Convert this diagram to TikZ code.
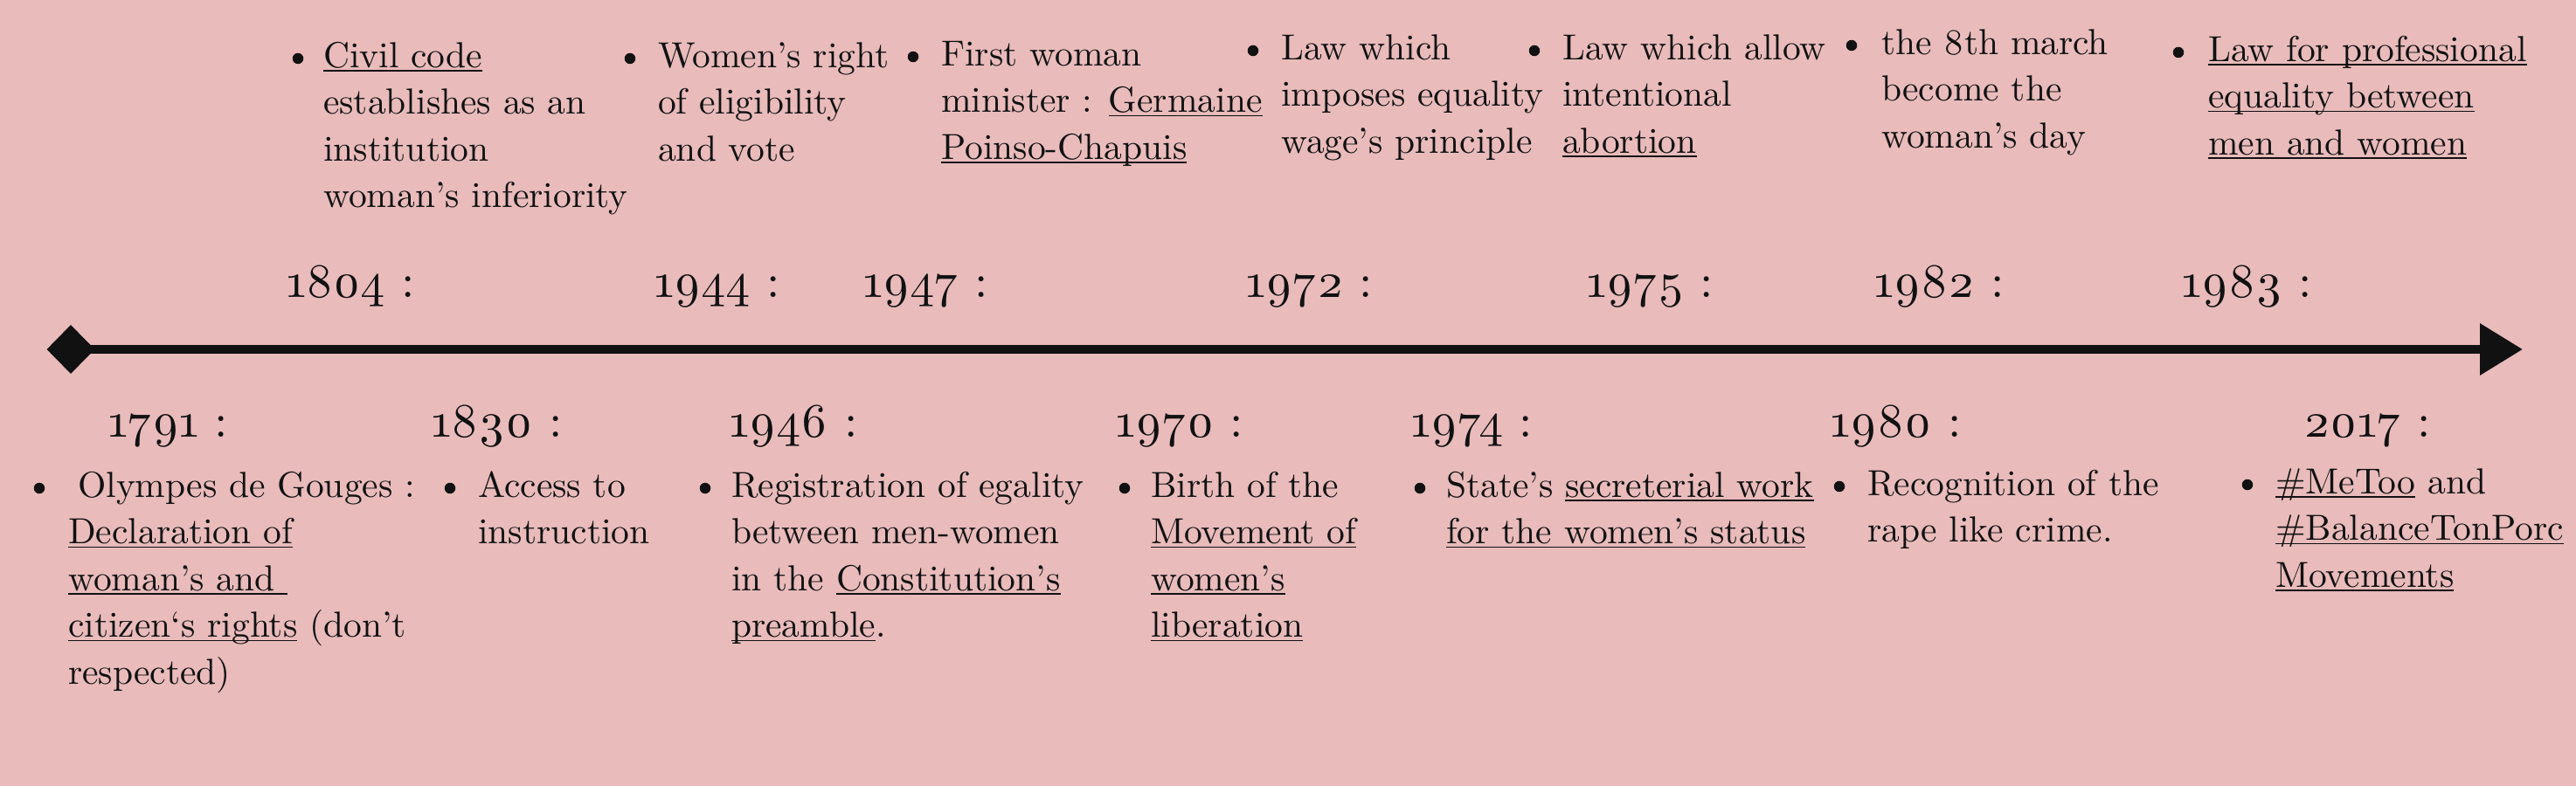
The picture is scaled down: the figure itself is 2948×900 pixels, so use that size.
\documentclass[tikz,border=0pt]{standalone}
\usepackage{fontspec}
\setmainfont{lmroman10-regular.otf}[Numbers=OldStyle]
\usetikzlibrary{arrows.meta,shapes.geometric}
\definecolor{bgpink}{HTML}{E9BBBB}
\definecolor{ink}{HTML}{111111}
\newcommand\ulx[1]{\setbox0\hbox{#1}\rlap{\rule[-4.5bp]{\wd0}{1.4bp}}\box0\relax}
\newcommand\ttab[1]{\begin{tabular}[t]{@{}l@{}}#1\end{tabular}}
\begin{document}
\begin{tikzpicture}[x=1bp,y=-1bp,
  year/.style={anchor=base west, inner sep=0, text=ink, font=\fontsize{55bp}{60bp}\selectfont},
  evt/.style={anchor=base west, inner sep=0, text=ink, font=\fontsize{41.5bp}{53.5bp}\selectfont},
  dot/.style={circle, fill=ink, inner sep=0, minimum size=12.5bp}]
\fill[bgpink] (0,0) rectangle (2948,900);
\useasboundingbox (0,0) rectangle (2948,900);

% timeline
\node[diamond, fill=ink, minimum width=55bp, minimum height=56bp, inner sep=0] (start) at (81,400) {};
\coordinate (end) at (2887,400);
\draw[ink, line width=10bp, -{Triangle[length=49bp,width=57bp]}] (start.center) -- (end);

% top row
\node[year] (y1804) at (328,340) {1804 :};
\node[dot] (b1804) at (341,67) {};
\node[evt] (t1804) at (370,77) {\ttab{\ulx{Civil code}\\ establishes as an\\ institution\\ woman’s inferiority}};

\node[year] (y1944) at (749,340) {1944 :};
\node[dot] (b1944) at (721,67) {};
\node[evt] (t1944) at (753,77) {\ttab{Women’s right\\ of eligibility\\ and vote}};

\node[year] (y1947) at (988,340) {1947 :};
\node[dot] (b1947) at (1045,65) {};
\node[evt] (t1947) at (1077,75) {\ttab{First woman\\ minister : \ulx{Germaine}\\ \ulx{Poinso-Chapuis}}};

\node[year] (y1972) at (1426,340) {1972 :};
\node[dot] (b1972) at (1434,58) {};
\node[evt] (t1972) at (1466,68) {\ttab{Law which\\ imposes equality\\ wage’s principle}};

\node[year] (y1975) at (1816,340) {1975 :};
\node[dot] (b1975) at (1756,58) {};
\node[evt] (t1975) at (1788,68) {\ttab{Law which allow\\ intentional\\ \ulx{abortion}}};

\node[year] (y1982) at (2145,340) {1982 :};
\node[dot] (b1982) at (2119,52) {};
\node[evt] (t1982) at (2153,62) {\ttab{the 8th march\\ become the\\ woman’s day}};

\node[year] (y1983) at (2497,340) {1983 :};
\node[dot] (b1983) at (2493,60) {};
\node[evt] (t1983) at (2527,70) {\ttab{\ulx{Law for professional}\\ \ulx{equality between}\\ \ulx{men and women}}};

% bottom row
\node[year] (y1791) at (124,500) {1791 :};
\node[dot] (b1791) at (45,559) {};
\node[evt] (t1791) at (78,569) {\ttab{\hspace*{11bp}Olympes de Gouges :\\ \ulx{Declaration of}\\ \ulx{woman’s and\ }\\ \ulx{citizen‘s rights} (don’t\\ respected)}};

\node[year] (y1830) at (494,500) {1830 :};
\node[dot] (b1830) at (515,559) {};
\node[evt] (t1830) at (547,569) {\ttab{Access to\\ instruction}};

\node[year] (y1946) at (835,500) {1946 :};
\node[dot] (b1946) at (807,559) {};
\node[evt] (t1946) at (837,569) {\ttab{Registration of egality\\ between men-women\\ in the \ulx{Constitution’s}\\ \ulx{preamble}.}};

\node[year] (y1970) at (1277,500) {1970 :};
\node[dot] (b1970) at (1287,559) {};
\node[evt] (t1970) at (1317,569) {\ttab{Birth of the\\ \ulx{Movement of}\\ \ulx{women’s}\\ \ulx{liberation}}};

\node[year] (y1974) at (1615,500) {1974 :};
\node[dot] (b1974) at (1625,559) {};
\node[evt] (t1974) at (1655,569) {\ttab{State’s \ulx{secreterial work}\\ \ulx{for the women’s status}}};

\node[year] (y1980) at (2095,500) {1980 :};
\node[dot] (b1980) at (2105,557) {};
\node[evt] (t1980) at (2137,567) {\ttab{Recognition of the\\ rape like crime.}};

\node[year] (y2017) at (2636,500) {2017 :};
\node[dot] (b2017) at (2572,555) {};
\node[evt] (t2017) at (2604,565) {\ttab{\ulx{\#MeToo} and\\ \ulx{\#BalanceTonPorc}\\ \ulx{Movements}}};
\end{tikzpicture}
\end{document}
